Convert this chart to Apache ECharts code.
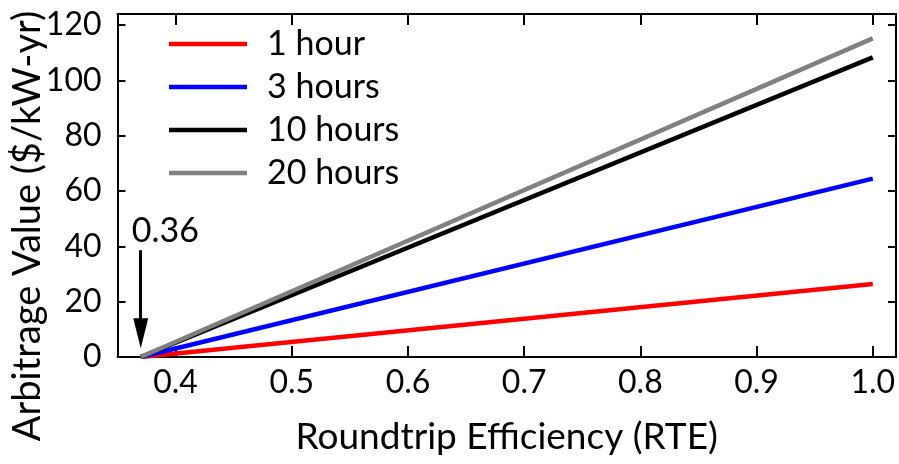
<!DOCTYPE html>
<html><head><meta charset="utf-8">
<script src="https://cdn.jsdelivr.net/npm/echarts@6/dist/echarts.min.js"></script>
<style>html,body{margin:0;padding:0;background:#fff}#c{width:899px;height:464px}</style>
</head><body><div id="c"></div>
<script>
const seriesNames = ['1 hour', '3 hours', '10 hours', '20 hours'];
const seriesColors = ['#ff0000', '#0000ff', '#000000', '#808080'];
const rteValues = [0.37, 1.0];
const val1h = [0, 26.4];
const val3h = [0, 64.5];
const val10h = [0, 108.3];
const val20h = [0, 115.2];
const xTicks = [0.4, 0.5, 0.6, 0.7, 0.8, 0.9, 1.0];
const yTicks = [0, 20, 40, 60, 80, 100, 120];
const arrowX = 0.37, arrowTop = 38.6, arrowHead = 8.6, arrowLabel = '0.36', arrowLabelY = 45.5;

const FONT = 'Lato';
const allVals = [val1h, val3h, val10h, val20h];
const chart = echarts.init(document.getElementById('c'), null, {renderer: 'canvas'});
const series = allVals.map((v, i) => ({
  name: seriesNames[i], type: 'line', symbol: 'none',
  data: rteValues.map((x, j) => [x, v[j]]),
  lineStyle: {color: seriesColors[i], width: 4.5},
  itemStyle: {color: seriesColors[i]},
  z: 2 + i
}));
series.push({
  type: 'line', data: [], silent: true,
  markLine: {
    silent: true, symbol: ['none', 'none'],
    lineStyle: {color: '#000', width: 3, type: 'solid'},
    label: {show: false},
    data: [[{coord: [arrowX, arrowTop]}, {coord: [arrowX, arrowHead]}]]
  },
  markPoint: {
    silent: true,
    data: [
      {coord: [arrowX, arrowLabelY], symbol: 'circle', symbolSize: 0,
        label: {show: true, formatter: arrowLabel, color: '#000', fontFamily: FONT, fontSize: 34, align: 'left', offset: [-9, 0]}},
      {coord: [arrowX, arrowHead], symbol: 'triangle', symbolSize: [15, 30], symbolRotate: 180,
        itemStyle: {color: '#000'}, label: {show: false}}
    ]
  }
});
const axisLine = {show: true, onZero: false, lineStyle: {color: '#000', width: 2}};
chart.setOption({
  animation: false,
  grid: {left: 117.5, right: 3, top: 14, bottom: 107},
  legend: {
    orient: 'vertical', left: 169, top: 27, padding: 0, itemWidth: 78, itemHeight: 4.5, itemGap: 9,
    icon: 'rect', data: seriesNames,
    textStyle: {fontFamily: FONT, fontSize: 34, color: '#000', lineHeight: 33, padding: [0, 0, 0, 15]}
  },
  xAxis: [{
    type: 'value', min: 0.35, max: 1.02, interval: 0.05,
    axisLine, splitLine: {show: false},
    axisTick: {show: true, inside: true, length: 11, lineStyle: {color: '#000', width: 2},
      customValues: xTicks},
    axisLabel: {color: '#000', fontFamily: FONT, fontSize: 32, margin: 10,
      customValues: xTicks, formatter: v => v.toFixed(1)},
    name: 'Roundtrip Efficiency (RTE)', nameLocation: 'middle', nameGap: 62,
    nameTextStyle: {color: '#000', fontFamily: FONT, fontSize: 37}
  }, {
    type: 'value', min: 0.35, max: 1.02, position: 'top',
    axisLine, splitLine: {show: false}, axisLabel: {show: false},
    axisTick: {show: true, inside: true, length: 11, lineStyle: {color: '#000', width: 2}, customValues: xTicks}
  }],
  yAxis: [{
    type: 'value', min: 0, max: 124,
    axisLine, splitLine: {show: false},
    axisTick: {show: true, inside: true, length: 8, lineStyle: {color: '#000', width: 2}, customValues: yTicks},
    axisLabel: {color: '#000', fontFamily: FONT, fontSize: 32, margin: 16, customValues: yTicks}
  }, {
    type: 'value', min: 0, max: 124, position: 'right',
    axisLine, splitLine: {show: false}, axisLabel: {show: false},
    axisTick: {show: true, inside: true, length: 8, lineStyle: {color: '#000', width: 2}, customValues: yTicks}
  }],
  graphic: [{
    type: 'text', x: 28, y: 226, rotation: Math.PI / 2,
    style: {text: 'Arbitrage Value ($/kW-yr)', fill: '#000', font: '38px ' + FONT, textAlign: 'center', textVerticalAlign: 'middle'}
  }],
  series
});
</script></body></html>
